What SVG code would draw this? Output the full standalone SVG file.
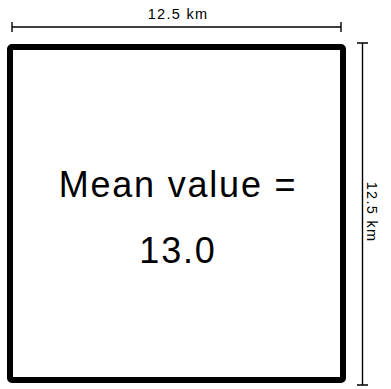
<svg xmlns="http://www.w3.org/2000/svg" width="391" height="389" viewBox="0 0 391 389">
<style>
.dim{stroke:#000;stroke-width:1.4;fill:none}
.lbl{font-family:"Liberation Sans",Arial,sans-serif;font-size:14.5px;letter-spacing:1.3px;fill:#000;text-anchor:middle}
.big{font-family:"Liberation Sans",Arial,sans-serif;font-size:36px;letter-spacing:1.8px;fill:#000;text-anchor:middle}
</style>
<rect width="391" height="389" fill="#fff"/>
<g id="box">
<rect x="10" y="47" width="333" height="333" rx="2" fill="#fff" stroke="#000" stroke-width="6"/>
<text class="big" x="178" y="197">Mean value =</text>
<text class="big" x="178" y="263">13.0</text>
</g>
<g id="connectors">
<path class="dim" d="M12 27H341M12 22V32M341 22V32"/>
<path class="dim" d="M362.5 43V385M357 43H368M357 385H368"/>
</g>
<g id="labels">
<text class="lbl" x="178" y="19">12.5 km</text>
<text class="lbl" transform="translate(367,212) rotate(90)">12.5 km</text>
</g>
</svg>
